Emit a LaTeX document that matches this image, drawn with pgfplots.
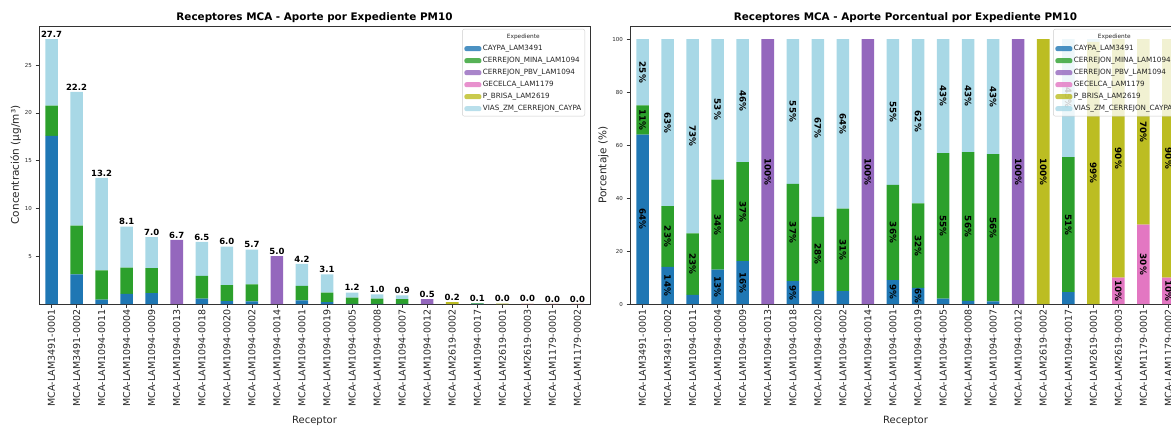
\documentclass[border=0pt]{standalone}
\usepackage{pgfplots}
\pgfplotsset{compat=1.18}
\usepackage{pgfplotstable}
\usepackage{fontspec}
\setmainfont{DejaVu Sans}
\definecolor{cCAY}{HTML}{1F77B4}
\definecolor{cMIN}{HTML}{2CA02C}
\definecolor{cPBV}{HTML}{9467BD}
\definecolor{cGEC}{HTML}{E377C2}
\definecolor{cBRI}{HTML}{BCBD22}
\definecolor{cVIA}{HTML}{A8D8E6}

\pgfplotstableread{
x cay min pbv gec bri via top tot
0 17.6 3.15 0 0 0 6.95 0.00001 27.7
1 3.1 5.1 0 0 0 14.0 0.00001 22.2
2 0.45 3.07 0 0 0 9.68 0.00001 13.2
3 1.05 2.75 0 0 0 4.30 0.00001 8.1
4 1.13 2.62 0 0 0 3.25 0.00001 7.0
5 0 0 6.7 0 0 0 0.00001 6.7
6 0.56 2.39 0 0 0 3.55 0.00001 6.5
7 0.29 1.68 0 0 0 4.03 0.00001 6.0
8 0.28 1.77 0 0 0 3.65 0.00001 5.7
9 0 0 5.0 0 0 0 0.00001 5.0
10 0.38 1.51 0 0 0 2.31 0.00001 4.2
11 0.19 0.99 0 0 0 1.92 0.00001 3.1
12 0.02 0.66 0 0 0 0.52 0.00001 1.2
13 0.01 0.56 0 0 0 0.43 0.00001 1.0
14 0.01 0.50 0 0 0 0.39 0.00001 0.9
15 0 0 0.5 0 0 0 0.00001 0.5
16 0 0 0 0 0.2 0 0.00001 0.2
17 0.005 0.051 0 0 0 0.044 0.00001 0.1
18 0 0 0 0 0.0396 0.0004 0.00001 0.04
19 0 0 0 0.002 0.018 0 0.00001 0.02
20 0 0 0 0.003 0.007 0 0.00001 0.01
21 0 0 0 0.001 0.009 0 0.00001 0.01
}\conc

\pgfplotstableread{
x cay min pbv gec bri via
0 64 11 0 0 0 25
1 14 23 0 0 0 63
2 3.4 23.3 0 0 0 73.3
3 13 34 0 0 0 53
4 16.2 37.4 0 0 0 46.4
5 0 0 100 0 0 0
6 8.6 36.8 0 0 0 54.6
7 4.9 28 0 0 0 67.1
8 4.9 31.1 0 0 0 64
9 0 0 100 0 0 0
10 9 36 0 0 0 55
11 6.1 31.9 0 0 0 62
12 2 55 0 0 0 43
13 1.2 56.2 0 0 0 42.6
14 1 55.6 0 0 0 43.4
15 0 0 100 0 0 0
16 0 0 0 0 100 0
17 4.5 51 0 0 0 44.5
18 0 0 0 0 99 1
19 0 0 0 10 90 0
20 0 0 0 30 70 0
21 0 0 0 10 90 0
}\pct

\newcommand\getseg{\pgfkeys{/pgf/fpu=true,/pgf/fpu/output format=fixed}\pgfmathsetmacro\segv{\pgfplotspointmeta}\pgfkeys{/pgf/fpu=false}}

\pgfplotsset{
  base/.style={
    scale only axis, width=551pt, height=278pt,
    ybar stacked, bar width=0.5,
    xmin=-0.5, xmax=21.5, ymin=0,
    /pgf/number format/assume math mode=true,
    axis line style={black!80, line width=0.6pt},
    tick style={black!80, line width=0.5pt},
    tick align=outside, major tick length=3.5pt, tick pos=left,
    xtick={0,...,21},
    xticklabels={MCA-LAM3491-0001, MCA-LAM3491-0002, MCA-LAM1094-0011, MCA-LAM1094-0004, MCA-LAM1094-0009, MCA-LAM1094-0013, MCA-LAM1094-0018, MCA-LAM1094-0020, MCA-LAM1094-0002, MCA-LAM1094-0014, MCA-LAM1094-0001, MCA-LAM1094-0019, MCA-LAM1094-0005, MCA-LAM1094-0008, MCA-LAM1094-0007, MCA-LAM1094-0012, MCA-LAM2619-0002, MCA-LAM1094-0017, MCA-LAM2619-0001, MCA-LAM2619-0003, MCA-LAM1179-0001, MCA-LAM1179-0002},
    x tick label style={rotate=90, anchor=east, font=\fontsize{9.5}{10}\selectfont, text=black!85, inner sep=2pt},
    y tick label style={font=\fontsize{5.5}{6}\selectfont, text=black!85},
    xlabel={Receptor},
    xlabel style={font=\fontsize{10}{12}\selectfont, text=black!85, yshift=-4pt},
    ylabel style={font=\fontsize{10.5}{12}\selectfont, text=black!85},
    ylabel shift=-3pt,
    title style={font=\fontsize{10.4}{12}\selectfont\bfseries, yshift=-6pt},
    legend image code/.code={\fill[##1] (0pt,-2.5pt) rectangle (17pt,2.5pt);},
    legend cell align=left,
    legend style={at={(1,1)}, anchor=north east, xshift=-5pt, yshift=-3pt,
      draw=black!20, rounded corners=2pt, fill=white, fill opacity=0.8, text opacity=1,
      inner sep=2pt, row sep=1pt,
      nodes={font=\fontsize{7.2}{8}\selectfont, text=black!85, text height=6pt, text depth=2pt, inner sep=1.5pt}},
  },
  pctlab/.style={
    point meta=explicit,
    nodes near coords={\getseg\ifdim\segv pt>5.5pt\relax\pgfmathprintnumber[fixed,precision=0,assume math mode=true]{\segv}\%\fi},
    every node near coord/.append style={rotate=-90, anchor=center, text=black, font=\fontsize{8.8}{9}\selectfont\bfseries, inner sep=0pt},
  },
}

\begin{document}
\begin{tikzpicture}
\begin{axis}[base, at={(39pt,122pt)}, anchor=south west,
  ymax=29.085, ytick={5,10,15,20,25},
  ylabel={Concentración (µg/m³)},
  title={Receptores MCA - Aporte por Expediente PM10}]
\addlegendimage{empty legend}
\addlegendentry{\hspace*{24pt}\fontsize{5.8}{7}\selectfont Expediente}
\addplot[fill=cCAY, draw=none] table[x=x, y=cay]{\conc};
\addlegendentry{CAYPA\_LAM3491}
\addplot[fill=cMIN, draw=none] table[x=x, y=min]{\conc};
\addlegendentry{CERREJON\_MINA\_LAM1094}
\addplot[fill=cPBV, draw=none] table[x=x, y=pbv]{\conc};
\addlegendentry{CERREJON\_PBV\_LAM1094}
\addplot[fill=cGEC, draw=none] table[x=x, y=gec]{\conc};
\addlegendentry{GECELCA\_LAM1179}
\addplot[fill=cBRI, draw=none] table[x=x, y=bri]{\conc};
\addlegendentry{P\_BRISA\_LAM2619}
\addplot[fill=cVIA, draw=none] table[x=x, y=via]{\conc};
\addlegendentry{VIAS\_ZM\_CERREJON\_CAYPA}
\addplot[draw=none, fill=none, forget plot, point meta=explicit,
  nodes near coords={\pgfmathprintnumber[fixed,zerofill,precision=1,assume math mode=true]{\pgfplotspointmeta}},
  every node near coord/.append style={anchor=south, text=black, font=\fontsize{8.5}{9}\selectfont\bfseries, inner sep=1.5pt}]
  table[x=x, y=top, meta=tot]{\conc};
\end{axis}

\begin{axis}[base, at={(630pt,122pt)}, anchor=south west,
  ymax=105, ytick={0,20,40,60,80,100},
  ylabel={Porcentaje (\%)},
  title={Receptores MCA - Aporte Porcentual por Expediente PM10}]
\addlegendimage{empty legend}
\addlegendentry{\hspace*{24pt}\fontsize{5.8}{7}\selectfont Expediente}
\addplot[fill=cCAY, draw=none, pctlab] table[x=x, y=cay, meta=cay]{\pct};
\addlegendentry{CAYPA\_LAM3491}
\addplot[fill=cMIN, draw=none, pctlab] table[x=x, y=min, meta=min]{\pct};
\addlegendentry{CERREJON\_MINA\_LAM1094}
\addplot[fill=cPBV, draw=none, pctlab] table[x=x, y=pbv, meta=pbv]{\pct};
\addlegendentry{CERREJON\_PBV\_LAM1094}
\addplot[fill=cGEC, draw=none, pctlab] table[x=x, y=gec, meta=gec]{\pct};
\addlegendentry{GECELCA\_LAM1179}
\addplot[fill=cBRI, draw=none, pctlab] table[x=x, y=bri, meta=bri]{\pct};
\addlegendentry{P\_BRISA\_LAM2619}
\addplot[fill=cVIA, draw=none, pctlab] table[x=x, y=via, meta=via]{\pct};
\addlegendentry{VIAS\_ZM\_CERREJON\_CAYPA}
\end{axis}
\pgfresetboundingbox
\useasboundingbox (0,0) rectangle (1171pt,426pt);
\end{tikzpicture}
\end{document}
